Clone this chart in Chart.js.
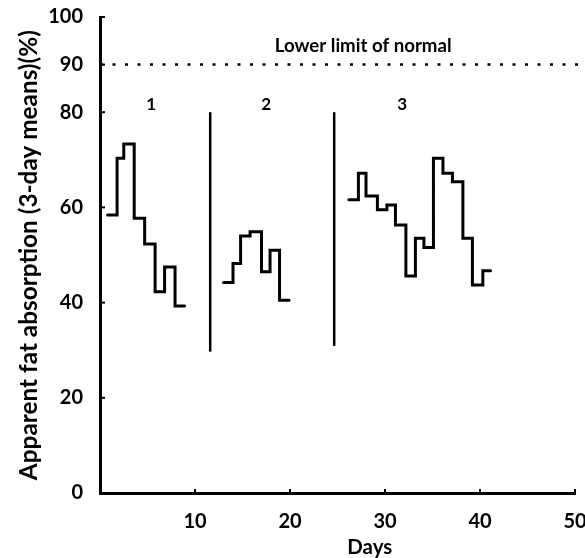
<!DOCTYPE html>
<html>
<head>
<meta charset="utf-8">
<script src="https://cdn.jsdelivr.net/npm/chart.js@4"></script>
<style>
  html, body { margin: 0; padding: 0; background: #fff; }
  #wrap { width: 585px; height: 558px; }
</style>
</head>
<body>
<div id="wrap"><canvas id="chart" width="585" height="558"></canvas></div>
<script>
// x = start day of each 3-day mean step, y = the mean (%)
const period1Days = [0.8, 1.8, 2.5, 3.6, 4.7, 5.8, 6.8, 7.9, 8.9];
const period1Values = [58.4, 70.3, 73.3, 57.7, 52.3, 42.3, 47.5, 39.3, 39.3];

const period2Days = [13.0, 14.0, 14.8, 15.8, 17.0, 17.9, 18.9, 19.9];
const period2Values = [44.2, 48.2, 54.0, 54.9, 46.5, 51.0, 40.5, 40.5];

const period3Days = [26.2, 27.2, 28.0, 29.2, 30.2, 31.1, 32.2, 33.2, 34.1, 35.1, 36.1, 37.1, 38.2, 39.2, 40.3, 41.1];
const period3Values = [61.6, 67.2, 62.4, 59.5, 60.5, 56.3, 45.6, 53.5, 51.6, 70.3, 67.2, 65.4, 53.5, 43.7, 46.7, 46.7];

// period dividers: day, bottom, top
const dividerDays = [11.6, 24.65];
const dividerBottoms = [29.7, 30.9];
const dividerTops = [80, 80];

const lowerLimit = 90;
const limitSpan = [0, 51];

const yTicks = [0, 20, 40, 60, 80, 90, 100];
const xTicks = [0, 10, 20, 30, 40, 50];

const periodLabels = ['1', '2', '3'];
const periodLabelDays = [5.4, 17.5, 31.8];
const periodLabelY = 81.7;

const yTitle = 'Apparent fat absorption (3-day means)(%)';
const xTitle = 'Days';
const limitLabel = 'Lower limit of normal';

const FONT = 'Lato';

const toPoints = (xs, ys) => xs.map((x, i) => ({ x: x, y: ys[i] }));

// pick a font size so that text fills the given width
function fitFont(ctx, text, width, base) {
  ctx.font = 'bold ' + base + 'px ' + FONT;
  const size = base * width / ctx.measureText(text).width;
  ctx.font = 'bold ' + size.toFixed(2) + 'px ' + FONT;
}

// 'before' in Chart.js = horizontal first, then vertical
const stepStyle = {
  borderColor: '#000',
  borderWidth: 3,
  pointRadius: 0,
  stepped: 'before',
  fill: false,
  borderCapStyle: 'round',
  borderJoinStyle: 'miter'
};

const datasets = [
  Object.assign({ data: toPoints(period1Days, period1Values) }, stepStyle),
  Object.assign({ data: toPoints(period2Days, period2Values) }, stepStyle),
  Object.assign({ data: toPoints(period3Days, period3Values) }, stepStyle),
  {
    data: toPoints(limitSpan, [lowerLimit, lowerLimit]),
    borderColor: '#000',
    borderWidth: 2.5,
    borderDash: [3, 9.5],
    pointRadius: 0,
    clip: false
  }
];
dividerDays.forEach((d, i) => {
  datasets.push({
    data: toPoints([d, d], [dividerBottoms[i], dividerTops[i]]),
    borderColor: '#000',
    borderWidth: 2.5,
    pointRadius: 0
  });
});

// text inside the plot, axis titles and short inward tick marks
const annotations = {
  id: 'annotations',
  afterDraw(chart) {
    const ctx = chart.ctx;
    const xs = chart.scales.x;
    const ys = chart.scales.y;
    ctx.save();
    ctx.fillStyle = '#000';
    ctx.strokeStyle = '#000';
    ctx.textAlign = 'center';
    ctx.textBaseline = 'middle';

    fitFont(ctx, limitLabel, 177, 17);
    ctx.fillText(limitLabel, xs.getPixelForValue(27.7), ys.getPixelForValue(94));

    ctx.font = 'bold 17px ' + FONT;
    periodLabels.forEach((t, i) => {
      ctx.fillText(t, xs.getPixelForValue(periodLabelDays[i]), ys.getPixelForValue(periodLabelY));
    });

    // x title sits a little right of the axis centre, as in the original
    fitFont(ctx, xTitle, 45, 20);
    ctx.fillText(xTitle, xs.getPixelForValue(28.4), 547);

    // y title runs from just above the 0 level up to near the top
    ctx.save();
    ctx.translate(29, ys.getPixelForValue(2.7));
    ctx.rotate(-Math.PI / 2);
    ctx.textAlign = 'left';
    fitFont(ctx, yTitle, 450, 21);
    ctx.fillText(yTitle, 0, 0);
    ctx.restore();

    ctx.lineWidth = 2;
    yTicks.forEach(v => {
      const py = ys.getPixelForValue(v);
      ctx.beginPath();
      ctx.moveTo(xs.left, py);
      ctx.lineTo(xs.left + 5, py);
      ctx.stroke();
    });
    xTicks.forEach(v => {
      const px = xs.getPixelForValue(v);
      ctx.beginPath();
      ctx.moveTo(px, ys.bottom);
      ctx.lineTo(px, ys.bottom - 4);
      ctx.stroke();
    });
    ctx.restore();
  }
};

new Chart(document.getElementById('chart'), {
  type: 'line',
  data: { datasets: datasets },
  options: {
    responsive: false,
    animation: false,
    layout: { padding: { top: 17, right: 10, left: 0, bottom: 0 } },
    plugins: { legend: { display: false }, tooltip: { enabled: false } },
    scales: {
      x: {
        type: 'linear',
        min: 0,
        max: 50,
        afterBuildTicks: (s) => { s.ticks = xTicks.map(v => ({ value: v })); },
        afterFit: (s) => { s.height = 65; s.paddingLeft = 0; s.paddingRight = 0; },
        grid: { display: true, drawOnChartArea: false, drawTicks: false },
        border: { display: true, color: '#000', width: 3 },
        ticks: {
          color: '#000',
          padding: 17,
          maxRotation: 0,
          font: { family: FONT, size: 20, weight: 'bold' },
          callback: (v) => (v === 0 ? '' : v)
        },
        title: { display: false }
      },
      y: {
        type: 'linear',
        min: 0,
        max: 100,
        afterBuildTicks: (s) => { s.ticks = yTicks.map(v => ({ value: v })); },
        afterFit: (s) => { s.width = 100; s.paddingTop = 0; s.paddingBottom = 0; },
        grid: { display: true, drawOnChartArea: false, drawTicks: false },
        border: { display: true, color: '#000', width: 3 },
        ticks: {
          color: '#000',
          padding: 17,
          font: { family: FONT, size: 20, weight: 'bold' }
        },
        title: { display: false }
      }
    }
  },
  plugins: [annotations]
});
</script>
</body>
</html>
